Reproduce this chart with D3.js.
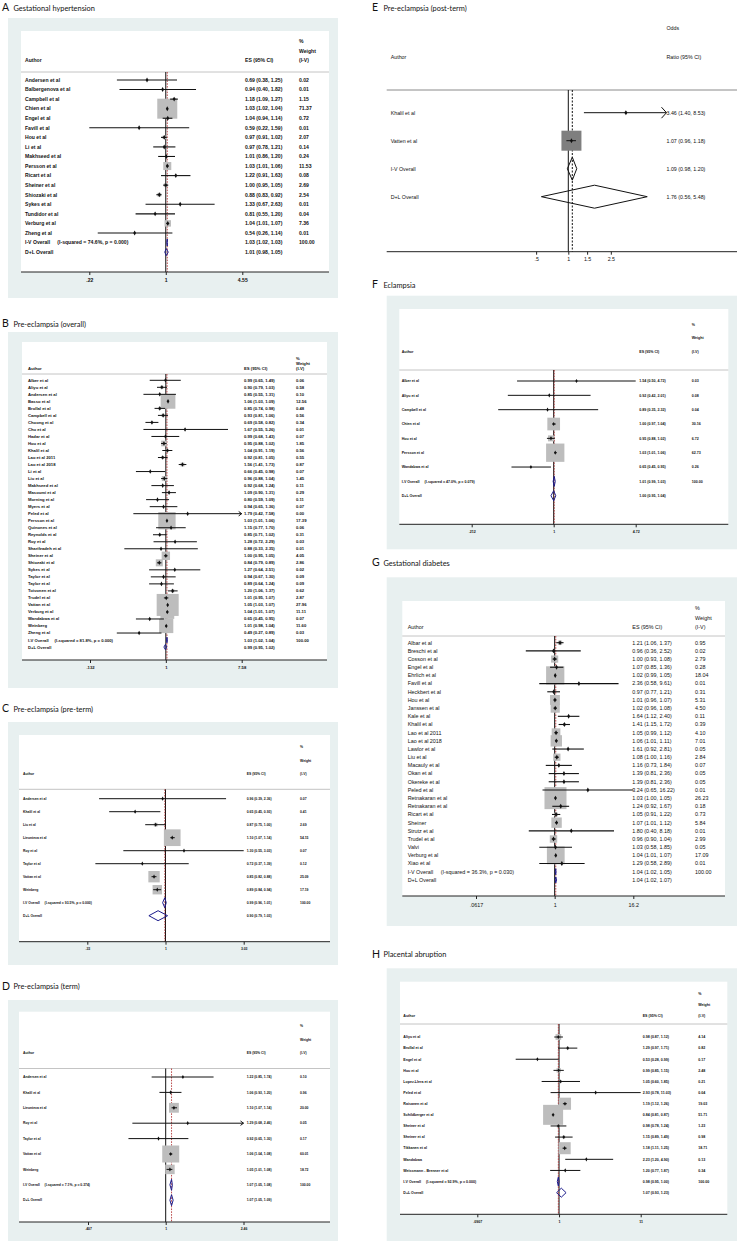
<!DOCTYPE html>
<html><head><meta charset="utf-8">
<script src="https://cdn.jsdelivr.net/npm/d3@7"></script>
<style>body{margin:0;background:#fff}svg{display:block}</style>
</head><body><svg id="c" width="737" height="1241"></svg>
<script>
// ================= DATA =================
// A Gestational hypertension
const authorsA = ["Andersen et al","Balbergenova et al","Campbell et al","Chien et al","Engel et al","Favill et al","Hou et al","Li et al","Makhseed et al","Persson et al","Ricart et al","Sheiner et al","Shiozaki et al","Sykes et al","Tundidor et al","Verburg et al","Zheng et al"];
const esA = [0.69,0.94,1.18,1.03,1.04,0.59,0.97,0.97,1.01,1.03,1.22,1.00,0.88,1.33,0.81,1.04,0.54];
const loA = [0.38,0.40,1.09,1.02,0.94,0.22,0.91,0.78,0.86,1.01,0.91,0.95,0.83,0.67,0.55,1.01,0.26];
const hiA = [1.25,1.82,1.27,1.04,1.14,1.59,1.02,1.21,1.20,1.06,1.63,1.05,0.92,2.63,1.20,1.07,1.14];
const wA  = [0.02,0.01,1.15,71.37,0.72,0.01,2.07,0.14,0.24,11.53,0.08,2.69,2.54,0.01,0.04,7.36,0.01];
const ivA = [1.03,1.02,1.03], dlA = [1.01,0.98,1.05], hetA = "(I-squared = 74.6%, p = 0.000)";
const ticksA = [0.22,1,4.55], tickLabelsA = [".22","1","4.55"], arrowsA = [];

// B Pre-eclampsia (overall)
const authorsB = ["Alber et al","Aliyu et al","Andersen et al","Basso et al","Brollal et al","Campbell et al","Choong et al","Chu et al","Hadar et al","Hou et al","Khalil et al","Lao et al 2011","Lao et al 2018","Li et al","Liu et al","Makhseed et al","Masoumi et al","Morning et al","Myers et al","Peled et al","Persson et al","Quinones et al","Reynolds et al","Roy et al","Sharifzadeh et al","Sheiner et al","Shiozaki et al","Sykes et al","Taylor et al","Taylor et al","Toivonen et al","Trudel et al","Vattan et al","Verburg et al","Wandabwa et al","Weinberg","Zheng et al"];
const esB = [0.99,0.90,0.85,1.06,0.85,0.93,0.69,1.67,0.99,0.95,1.04,0.92,1.56,0.66,0.96,0.92,1.09,0.80,0.94,1.79,1.03,1.15,0.85,1.28,0.88,1.00,0.84,1.27,0.94,0.89,1.20,1.01,1.05,1.04,0.65,1.01,0.49];
const loB = [0.65,0.79,0.55,1.03,0.74,0.81,0.58,0.55,0.68,0.88,0.91,0.81,1.41,0.45,0.88,0.68,0.90,0.59,0.65,0.42,1.01,0.77,0.71,0.72,0.33,0.95,0.79,0.64,0.67,0.64,1.06,0.95,1.03,1.01,0.45,0.98,0.27];
const hiB = [1.49,1.03,1.31,1.09,0.98,1.06,0.82,5.26,1.43,1.02,1.19,1.05,1.73,0.98,1.04,1.24,1.31,1.09,1.36,7.58,1.06,1.70,1.02,2.29,2.35,1.05,0.89,2.51,1.30,1.24,1.37,1.07,1.07,1.07,0.95,1.04,0.89];
const wB  = [0.06,0.58,0.10,12.56,0.48,0.56,0.34,0.01,0.07,1.85,0.56,0.55,0.87,0.07,1.45,0.11,0.29,0.11,0.07,0.00,17.39,0.06,0.31,0.03,0.01,4.05,2.86,0.02,0.09,0.09,0.62,2.87,27.96,11.11,0.07,11.60,0.03];
const ivB = [1.03,1.02,1.04], dlB = [0.99,0.95,1.02], hetB = "(I-squared = 81.8%, p = 0.000)";
const ticksB = [0.132,1,7.58], tickLabelsB = [".132","1","7.58"], arrowsB = ["Peled et al"];

// C Pre-eclampsia (pre-term)
const authorsC = ["Andersen et al","Khalil et al","Liu et al","Lieonteva et al","Roy et al","Taylor et al","Vattan et al","Weinberg"];
const esC = [0.96,0.65,0.87,1.10,1.30,0.72,0.85,0.89];
const loC = [0.39,0.45,0.75,1.07,0.55,0.37,0.82,0.84];
const hiC = [2.36,0.93,1.00,1.14,3.03,1.39,0.88,0.94];
const wC  = [0.07,0.41,2.69,54.15,0.07,0.12,25.09,17.19];
const ivC = [0.99,0.96,1.01], dlC = [0.90,0.79,1.03], hetC = "(I-squared = 93.5%, p = 0.000)";
const ticksC = [0.33,1,3.03], tickLabelsC = [".33","1","3.03"], arrowsC = [];

// D Pre-eclampsia (term)
const authorsD = ["Andersen et al","Khalil et al","Lieonteva et al","Roy et al","Taylor et al","Vattan et al","Weinberg"];
const esD = [1.22,1.06,1.10,1.29,0.92,1.06,1.05];
const loD = [0.85,0.93,1.07,0.68,0.65,1.04,1.01];
const hiD = [1.74,1.20,1.14,2.46,1.30,1.08,1.08];
const wD  = [0.10,0.96,20.00,0.05,0.17,60.01,18.72];
const ivD = [1.07,1.05,1.08], dlD = [1.07,1.05,1.09], hetD = "(I-squared = 7.1%, p = 0.374)";
const ticksD = [0.407,1,2.46], tickLabelsD = [".407","1","2.46"], arrowsD = ["Roy et al"];

// E Pre-eclampsia (post-term)
const authorsE = ["Khalil et al","Vatten et al"];
const esE = [3.46,1.07];
const loE = [1.40,0.96];
const hiE = [8.53,1.18];
const wE  = [1.29,98.71];
const ivE = [1.09,0.98,1.20], dlE = [1.76,0.56,5.48], hetE = "";
const ticksE = [0.5,1,1.5,2.5], tickLabelsE = [".5","1","1.5","2.5"], arrowsE = ["Khalil et al"];

// F Eclampsia
const authorsF = ["Alber et al","Aliyu et al","Campbell et al","Chien et al","Hou et al","Persson et al","Wandabwa et al"];
const esF = [1.54,0.92,0.89,1.00,0.95,1.03,0.65];
const loF = [0.50,0.42,0.35,0.97,0.88,1.01,0.45];
const hiF = [4.72,2.01,2.32,1.04,1.02,1.06,0.95];
const wF  = [0.03,0.08,0.04,30.16,6.72,62.73,0.26];
const ivF = [1.01,0.99,1.03], dlF = [1.00,0.95,1.04], hetF = "(I-squared = 47.0%, p = 0.079)";
const ticksF = [0.212,1,4.72], tickLabelsF = [".212","1","4.72"], arrowsF = [];

// G Gestational diabetes
const authorsG = ["Albar et al","Breschi et al","Cosson et al","Engel et al","Ehrlich et al","Favill et al","Heckbert et al","Hou et al","Janssen et al","Kale et al","Khalil et al","Lao et al 2011","Lao et al 2018","Lawlor et al","Liu et al","Macauly et al","Okan et al","Okereke et al","Peled et al","Retnakaran et al","Retnakaran et al","Ricart et al","Sheiner","Strutz et al","Trudel et al","Valvi","Verburg et al","Xiao et al"];
const esG = [1.21,0.96,1.00,1.07,1.02,2.36,0.97,1.01,1.02,1.64,1.41,1.05,1.06,1.61,1.08,1.16,1.39,1.39,3.24,1.03,1.24,1.05,1.07,1.80,0.96,1.03,1.04,1.29];
const loG = [1.06,0.36,0.93,0.85,0.99,0.58,0.77,0.96,0.96,1.12,1.15,0.99,1.01,0.92,1.00,0.73,0.81,0.81,0.65,1.00,0.92,0.91,1.01,0.40,0.90,0.58,1.01,0.58];
const hiG = [1.37,2.52,1.08,1.36,1.05,9.61,1.21,1.07,1.08,2.40,1.72,1.12,1.11,2.81,1.16,1.84,2.36,2.36,16.22,1.05,1.67,1.22,1.12,8.18,1.04,1.85,1.07,2.89];
const wG  = [0.95,0.02,2.79,0.28,18.04,0.01,0.31,5.31,4.50,0.11,0.39,4.10,7.01,0.05,2.84,0.07,0.05,0.05,0.01,26.23,0.18,0.73,5.84,0.01,2.99,0.05,17.09,0.01];
const ivG = [1.04,1.02,1.05], dlG = [1.04,1.02,1.07], hetG = "(I-squared = 36.3%, p = 0.030)";
const ticksG = [0.0617,1,16.2], tickLabelsG = [".0617","1","16.2"], arrowsG = [];

// H Placental abruption
const authorsH = ["Aliyu et al","Brollal et al","Engel et al","Hou et al","Lopez-Llera et al","Peled et al","Raisanen et al","Schildberger et al","Sheiner et al","Sheiner et al","Tikkanen et al","Wandabwa","Weissmann - Brenner et al"];
const esH = [0.98,1.29,0.53,0.99,1.05,2.93,1.19,0.84,0.98,1.15,1.18,2.23,1.20];
const loH = [0.87,0.97,0.28,0.85,0.60,0.78,1.12,0.81,0.78,0.89,1.11,1.20,0.77];
const hiH = [1.12,1.71,0.99,1.15,1.85,11.03,1.26,0.87,1.24,1.49,1.25,4.90,1.87];
const wH  = [4.14,0.82,0.17,2.48,0.21,0.04,19.03,51.71,1.23,0.98,18.71,0.13,0.34];
const ivH = [0.98,0.95,1.00], dlH = [1.07,0.93,1.23], hetH = "(I-squared = 92.9%, p = 0.000)";
const ticksH = [0.0907,1,11], tickLabelsH = [".0907","1","11"], arrowsH = [];

// ================= LAYOUT =================
const FONT = "'Liberation Sans', Arial, Helvetica, sans-serif";
const TFONT = "Lato, 'Open Sans', 'Noto Sans', sans-serif";
const svg = d3.select("#c");
const f2 = d3.format(".2f");

function panel(dat, L) {
  const g = svg.append("g");
  g.append("text").attr("x", L.lx).attr("y", L.ty).attr("font-family", TFONT).attr("font-size", 10.5).attr("fill","#111").text(L.letter);
  g.append("text").attr("x", L.lx + 11.5).attr("y", L.ty - 0.5).attr("font-family", TFONT).attr("font-size", 7.4).attr("fill","#111").text(L.title);
  if (L.outer) g.append("rect").attr("x", L.outer[0]).attr("y", L.outer[1]).attr("width", L.outer[2]-L.outer[0]).attr("height", L.outer[3]-L.outer[1]).attr("fill", "#e8f0f0");
  if (L.inner) g.append("rect").attr("x", L.inner[0]).attr("y", L.inner[1]).attr("width", L.inner[2]-L.inner[0]).attr("height", L.inner[3]-L.inner[1]).attr("fill", "#fff");

  const x = d3.scaleLog().domain([dat.ticks[0], dat.ticks[dat.ticks.length-1]]).range(L.xr);
  const k = dat.authors.length, n = k + 2;
  const y = d3.scaleLinear().domain([0, n-1]).range([L.y0, L.y0 + (n-1)*L.dy]);
  const fs = L.fs;
  const txt = (xx, yy, s, anchor) => g.append("text").attr("x", xx).attr("y", yy).attr("dy","0.35em")
      .attr("font-family", FONT).attr("font-size", fs).attr("font-weight", L.fw || "normal")
      .attr("fill", "#111").attr("text-anchor", anchor || "start").text(s);

  // header
  if (L.oddsHeader) {
    txt(L.ex, L.h1, "Odds");
    txt(L.ex, L.h3, "Ratio (95% CI)");
    txt(L.ax, L.h3, "Author");
  } else {
    txt(L.wx, L.h1, "%");
    txt(L.wx, L.h2, "Weight");
    txt(L.wx, L.h3, "(I-V)");
    txt(L.ax, L.h3, "Author");
    txt(L.ex, L.h3, "ES (95% CI)");
  }
  g.append("line").attr("x1", L.line[0]).attr("x2", L.line[1]).attr("y1", L.sep).attr("y2", L.sep)
    .attr("stroke", L.sepColor || "#c4c4c4").attr("stroke-width", 1);

  // reference lines
  g.append("line").attr("x1", x(1)).attr("x2", x(1)).attr("y1", L.sep).attr("y2", L.axisY)
    .attr("stroke", "#111").attr("stroke-width", L.nullW || 1);
  g.append("line").attr("x1", x(dat.iv[0])).attr("x2", x(dat.iv[0])).attr("y1", L.sep).attr("y2", L.axisY)
    .attr("stroke", L.dashColor || "#b23a3a").attr("stroke-width", L.dashW || 0.9).attr("stroke-dasharray", L.dash || "1.6,1.2");

  const rows = dat.authors.map((a, i) => ({a, es: dat.es[i], lo: dat.lo[i], hi: dat.hi[i], w: dat.w[i], i}));
  const wmax = d3.max(dat.w);
  const clipLo = L.clip ? L.clip[0] : dat.ticks[0];
  const clipHi = L.clip ? L.clip[1] : dat.ticks[dat.ticks.length-1];

  // boxes
  g.selectAll(null).data(rows).join("rect")
    .attr("x", d => x(d.es) - L.box*Math.sqrt(d.w/wmax)/2)
    .attr("y", d => y(d.i) - L.box*Math.sqrt(d.w/wmax)/2)
    .attr("width", d => L.box*Math.sqrt(d.w/wmax))
    .attr("height", d => L.box*Math.sqrt(d.w/wmax))
    .attr("fill", L.boxColor || "#bdbdbd");
  // CI lines
  g.selectAll(null).data(rows).join("line")
    .attr("x1", d => x(Math.max(d.lo, clipLo))).attr("x2", d => x(Math.min(d.hi, clipHi)))
    .attr("y1", d => y(d.i)).attr("y2", d => y(d.i))
    .attr("stroke", "#111").attr("stroke-width", L.lw);
  // arrows
  rows.filter(d => dat.arrows.includes(d.a)).forEach(d => {
    const xe = x(Math.min(d.hi, clipHi)), yc = y(d.i), aw = L.arrow[0], ah = L.arrow[1];
    g.append("path").attr("d", `M${xe-aw},${yc-ah}L${xe},${yc}L${xe-aw},${yc+ah}`)
      .attr("fill","none").attr("stroke","#111").attr("stroke-width", L.lw);
  });
  // point markers
  g.selectAll(null).data(rows).join("path")
    .attr("transform", d => `translate(${x(d.es)},${y(d.i)})`)
    .attr("d", d3.symbol(d3.symbolDiamond, L.ms)).attr("fill", "#111");

  // diamonds
  [[dat.iv, k], [dat.dl, k+1]].forEach(([v, i]) => {
    const yc = y(i), h = L.dh/2;
    g.append("path").attr("d", `M${x(v[1])},${yc}L${x(v[0])},${yc-h}L${x(v[2])},${yc}L${x(v[0])},${yc+h}Z`)
      .attr("fill","none").attr("stroke", L.diaColor || "#1c1c8c").attr("stroke-width", L.diaW || 1);
  });

  // row texts
  rows.forEach(d => {
    txt(L.ax, y(d.i), d.a);
    txt(L.ex, y(d.i), `${f2(d.es)} (${f2(d.lo)}, ${f2(d.hi)})`);
    if (!L.oddsHeader) txt(L.wx, y(d.i), f2(d.w));
  });
  const ivt = txt(L.ax, y(k), "I-V Overall");
  if (dat.het) ivt.append("tspan").attr("dx", fs*1.4).text(dat.het);
  txt(L.ex, y(k), `${f2(dat.iv[0])} (${f2(dat.iv[1])}, ${f2(dat.iv[2])})`);
  if (!L.oddsHeader) txt(L.wx, y(k), "100.00");
  txt(L.ax, y(k+1), "D+L Overall");
  txt(L.ex, y(k+1), `${f2(dat.dl[0])} (${f2(dat.dl[1])}, ${f2(dat.dl[2])})`);

  // axis
  g.append("line").attr("x1", L.line[0]).attr("x2", L.line[1]).attr("y1", L.axisY).attr("y2", L.axisY)
    .attr("stroke", "#222").attr("stroke-width", 1);
  const ax = g.append("g").attr("transform", `translate(0,${L.axisY})`)
    .call(d3.axisBottom(x).tickValues(dat.ticks).tickFormat((t, i) => dat.tickLabels[i]).tickSize(L.tick || 3).tickPadding(L.tickPad || 3).tickSizeOuter(0));
  ax.select(".domain").remove();
  ax.selectAll("line").attr("stroke", "#222");
  ax.selectAll("text").attr("font-family", FONT).attr("font-size", fs).attr("font-weight", L.fw || "normal").attr("fill", "#111");
}

const P = (a, e, l, h, w, iv, dl, het, t, tl, ar) => ({authors:a, es:e, lo:l, hi:h, w:w, iv:iv, dl:dl, het:het, ticks:t, tickLabels:tl, arrows:ar});

panel(P(authorsA, esA, loA, hiA, wA, ivA, dlA, hetA, ticksA, tickLabelsA, arrowsA), {
  letter:"A", title:"Gestational hypertension", lx:2, ty:11,
  outer:[8,18,338,298], inner:[21,31,329,272], line:[21,329],
  h1:41.3, h2:51, h3:60.7, sep:72, y0:80, dy:9.56,
  xr:[89.3,242.3], ax:25, ex:245, wx:299, fs:5.1, fw:"bold",
  box:20, lw:1.1, ms:7, dh:7, axisY:272, arrow:[3,2.5]
});
panel(P(authorsB, esB, loB, hiB, wB, ivB, dlB, hetB, ticksB, tickLabelsB, arrowsB), {
  letter:"B", title:"Pre-eclampsia (overall)", lx:2, ty:327,
  outer:[8,332,338,688], inner:[22,342,327,660], line:[22,327],
  h1:358.7, h2:363.5, h3:368.3, sep:374, y0:380.3, dy:7.02,
  xr:[90,241.7], ax:28, ex:244, wx:296, fs:4.2, fw:"bold",
  box:22, lw:1, ms:6, dh:5.5, axisY:660, arrow:[3,2.2]
});
panel(P(authorsC, esC, loC, hiC, wC, ivC, dlC, hetC, ticksC, tickLabelsC, arrowsC), {
  letter:"C", title:"Pre-eclampsia (pre-term)", lx:2, ty:712,
  outer:[8,722,338,965], inner:[19,735,330,941.7], line:[19,330],
  h1:747, h2:760.7, h3:774, sep:789.3, y0:798.7, dy:13,
  xr:[87.3,243.7], ax:23, ex:246.7, wx:300, fs:3.4, fw:"bold",
  box:16.7, lw:1, ms:5, dh:10, axisY:941.7, arrow:[3,2.2]
});
panel(P(authorsD, esD, loD, hiD, wD, ivD, dlD, hetD, ticksD, tickLabelsD, arrowsD), {
  letter:"D", title:"Pre-eclampsia (term)", lx:2, ty:989.5,
  outer:[8,1000,338,1241], inner:[19,1011.7,330,1222], line:[19,330],
  h1:1026, h2:1039.7, h3:1053.3, sep:1068.5, y0:1077, dy:15.4,
  xr:[88,243.5], ax:23, ex:246.7, wx:300, fs:3.4, fw:"bold",
  box:17, lw:1, ms:5, dh:11, axisY:1222, arrow:[3,2.2]
});
panel(P(authorsE, esE, loE, hiE, wE, ivE, dlE, hetE, ticksE, tickLabelsE, arrowsE), {
  letter:"E", title:"Pre-eclampsia (post-term)", lx:372, ty:11,
  outer:null, inner:null, line:[386.7,737], oddsHeader:true, sepColor:"#8a8a8a",
  h1:28, h3:56.7, sep:90, y0:112.7, dy:28,
  xr:[568.3 + Math.log(0.5)*46.4, 568.3 + Math.log(2.5)*46.4], clip:[0.3, 8.3],
  ax:390.7, ex:666.5, fs:5.3,
  box:20, boxColor:"#7f7f7f", lw:1, ms:7, dh:23, axisY:251.7, arrow:[5,5.5],
  dashColor:"#111", dashW:1, dash:"2,1.5", diaColor:"#111", diaW:1
});
panel(P(authorsF, esF, loF, hiF, wF, ivF, dlF, hetF, ticksF, tickLabelsF, arrowsF), {
  letter:"F", title:"Eclampsia", lx:372, ty:288,
  outer:[386.7,295.7,737,549.3], inner:[399.3,309,728.3,524.3], line:[399.3,728.3],
  h1:325, h2:337.3, h3:352, sep:370, y0:381, dy:14.34,
  xr:[471.7,635.7], ax:401.7, ex:639.3, wx:691.7, fs:3.6, fw:"bold",
  box:18.3, lw:1, ms:5, dh:10, axisY:524.3, arrow:[3,2.2]
});
panel(P(authorsG, esG, loG, hiG, wG, ivG, dlG, hetG, ticksG, tickLabelsG, arrowsG), {
  letter:"G", title:"Gestational diabetes", lx:372, ty:566,
  outer:[386.7,577.3,737,926], inner:[402.3,601,725,896], line:[402.3,725],
  h1:607.7, h2:617.7, h3:626.7, sep:636, y0:642.7, dy:8.18,
  xr:[476,633.3], ax:407.7, ex:632.3, wx:695, fs:5.4, fw:"normal",
  box:22, lw:1.1, ms:7, dh:6, axisY:896, arrow:[3,2.5], tickPad:4
});
panel(P(authorsH, esH, loH, hiH, wH, ivH, dlH, hetH, ticksH, tickLabelsH, arrowsH), {
  letter:"H", title:"Placental abruption", lx:372, ty:957.5,
  outer:[386.7,968.3,737,1241], inner:[400,981.7,727.3,1214.3], line:[400,727.3],
  h1:993.3, h2:1005, h3:1015.7, sep:1024, y0:1037, dy:11.12,
  xr:[477.3,640.7], ax:403.3, ex:642.7, wx:698.3, fs:3.6, fw:"bold",
  box:20, lw:1, ms:5, dh:9, axisY:1214.3, arrow:[3,2.2]
});
</script></body></html>
